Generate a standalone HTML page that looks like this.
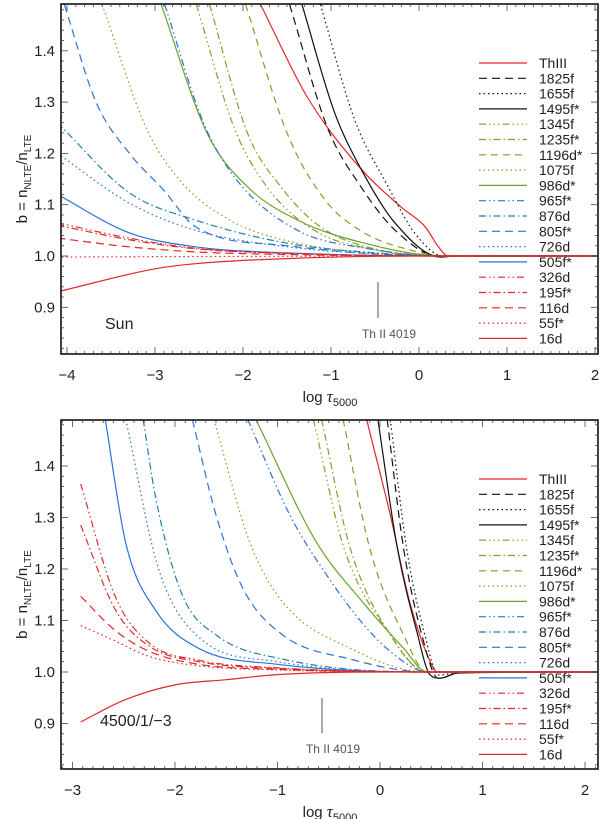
<!DOCTYPE html>
<html><head><meta charset="utf-8"><style>
html,body{margin:0;padding:0;background:#fff}
svg{display:block;font-family:"Liberation Sans","DejaVu Sans",sans-serif}
</style></head><body>
<svg id="fig" width="600" height="819" viewBox="0 0 600 819"></svg>
<script>
// ---- data ----
const labels = ["ThIII","1825f","1655f","1495f*","1345f","1235f*","1196d*","1075f","986d*","965f*","876d","805f*","726d","505f*","326d","195f*","116d","55f*","16d"];
const colors = ["#e02828","#111","#111","#111","#8a9a2a","#8a9a2a","#8a9a2a","#8a9a2a","#6aa22a","#2a72d8","#1f80a8","#2a72d8","#2a72d8","#2a72d8","#e02828","#e02828","#e02828","#e02828","#e02828"];
const dashes = ["","8,5","1.5,3","","7,3,1.5,3,1.5,3,1.5,3","7,3,1.5,3","7,5","1.5,3","","7,3,1.5,3,1.5,3","7,3,1.5,3","8,5","1.5,3","","7,3,1.5,3,1.5,3","7,3,1.5,3","8,5","1.5,3",""];
// top panel (Sun): series as [logtau, b] pairs
const sunSeries = [
 [[-1.8,1.49],[-1.27,1.31],[-0.66,1.17],[-0.2,1.095],[0.07,1.057],[0.22,1.018],[0.33,1.0],[2.1,1.0]],
 [[-1.47,1.49],[-1.04,1.25],[-0.66,1.135],[-0.27,1.05],[0.25,0.998],[0.4,1.0],[2.1,1.0]],
 [[-1.12,1.49],[-0.73,1.265],[-0.35,1.135],[-0.05,1.045],[0.28,1.0],[2.1,1.0]],
 [[-1.33,1.49],[-0.96,1.28],[-0.66,1.17],[-0.27,1.064],[0.25,0.998],[0.4,1.0],[2.1,1.0]],
 [[-2.53,1.49],[-2.1,1.25],[-1.73,1.135],[-1.19,1.05],[-0.5,1.012],[0.3,1.0],[2.1,1.0]],
 [[-2.38,1.49],[-1.95,1.24],[-1.57,1.135],[-1.12,1.057],[-0.46,1.012],[0.3,1.0],[2.1,1.0]],
 [[-1.97,1.49],[-1.5,1.24],[-1.07,1.11],[-0.62,1.045],[-0.06,1.01],[0.3,1.0],[2.1,1.0]],
 [[-3.6,1.49],[-3.1,1.25],[-2.72,1.148],[-2.15,1.07],[-1.38,1.025],[-0.4,1.005],[0.3,1.0],[2.1,1.0]],
 [[-2.93,1.49],[-2.41,1.24],[-1.95,1.135],[-1.38,1.07],[-0.62,1.025],[0.3,1.0],[2.1,1.0]],
 [[-2.89,1.49],[-2.45,1.26],[-2.07,1.148],[-1.38,1.05],[-0.6,1.015],[0.3,1.0],[2.1,1.0]],
 [[-4.11,1.26],[-3.29,1.123],[-2.54,1.07],[-1.5,1.025],[-0.5,1.006],[0.3,1.0],[2.1,1.0]],
 [[-4.03,1.49],[-3.67,1.30],[-3.29,1.20],[-2.9,1.128],[-2.54,1.057],[-1.5,1.02],[0.3,1.0],[2.1,1.0]],
 [[-4.11,1.20],[-3.29,1.103],[-2.54,1.05],[-1.5,1.018],[-0.5,1.004],[0.3,1.0],[2.1,1.0]],
 [[-4.11,1.12],[-3.29,1.045],[-2.54,1.018],[-1.5,1.006],[0.3,1.0],[2.1,1.0]],
 [[-4.11,1.065],[-3.3,1.035],[-2.54,1.015],[-1.5,1.005],[0.3,1.0],[2.1,1.0]],
 [[-4.11,1.06],[-3.3,1.032],[-2.54,1.014],[-1.5,1.005],[0.3,1.0],[2.1,1.0]],
 [[-4.11,1.035],[-3.3,1.018],[-2.54,1.008],[-1.5,1.003],[0.3,1.0],[2.1,1.0]],
 [[-4.11,0.998],[-2.5,0.999],[0.3,1.0],[2.1,1.0]],
 [[-4.11,0.93],[-3.0,0.975],[-2.54,0.985],[-1.5,0.995],[0.0,1.0],[2.1,1.0]]
];
// bottom panel (4500/1/-3)
const giantSeries = [
 [[-0.13,1.49],[0.1,1.305],[0.29,1.136],[0.49,1.02],[0.56,1.0],[2.2,1.0]],
 [[0.07,1.49],[0.23,1.24],[0.4,1.078],[0.57,0.988],[0.8,1.0],[2.2,1.0]],
 [[0.1,1.49],[0.26,1.24],[0.44,1.07],[0.57,0.994],[0.8,1.0],[2.2,1.0]],
 [[-0.02,1.49],[0.17,1.24],[0.36,1.078],[0.49,0.994],[0.59,0.988],[0.76,0.998],[2.2,1.0]],
 [[-0.65,1.49],[-0.35,1.24],[0.08,1.078],[0.46,1.0],[2.2,1.0]],
 [[-0.57,1.49],[-0.29,1.24],[0.1,1.072],[0.46,1.0],[2.2,1.0]],
 [[-0.36,1.49],[-0.1,1.24],[0.23,1.072],[0.46,1.0],[2.2,1.0]],
 [[-1.62,1.49],[-1.27,1.252],[-0.95,1.136],[-0.29,1.046],[0.46,1.0],[2.2,1.0]],
 [[-1.21,1.49],[-0.62,1.252],[-0.17,1.136],[0.23,1.046],[0.46,1.0],[2.2,1.0]],
 [[-1.29,1.49],[-0.88,1.305],[-0.56,1.2],[-0.13,1.085],[0.23,1.02],[0.46,1.0],[2.2,1.0]],
 [[-2.31,1.49],[-2.19,1.34],[-1.93,1.15],[-1.6,1.072],[-0.95,1.025],[0.46,1.0],[2.2,1.0]],
 [[-1.83,1.49],[-1.6,1.305],[-1.34,1.163],[-0.95,1.072],[-0.29,1.025],[0.46,1.0],[2.2,1.0]],
 [[-2.48,1.49],[-2.16,1.2],[-1.77,1.068],[-1.0,1.02],[0.46,1.0],[2.2,1.0]],
 [[-2.68,1.49],[-2.48,1.25],[-2.19,1.12],[-1.77,1.046],[-1.0,1.015],[0.46,1.0],[2.2,1.0]],
 [[-2.92,1.365],[-2.58,1.145],[-2.25,1.056],[-1.77,1.023],[-1.0,1.008],[0.46,1.0],[2.2,1.0]],
 [[-2.92,1.285],[-2.58,1.12],[-2.25,1.05],[-1.77,1.02],[-1.0,1.007],[0.46,1.0],[2.2,1.0]],
 [[-2.92,1.147],[-2.58,1.08],[-2.25,1.04],[-1.77,1.015],[-1.0,1.005],[0.46,1.0],[2.2,1.0]],
 [[-2.92,1.09],[-2.58,1.06],[-2.25,1.03],[-1.77,1.012],[-1.0,1.004],[0.46,1.0],[2.2,1.0]],
 [[-2.92,0.903],[-2.5,0.945],[-2.0,0.975],[-1.5,0.985],[-1.0,0.995],[0.0,1.0],[2.2,1.0]]
];
const xTicksTop = [-4,-3,-2,-1,0,1,2];
const xTicksBot = [-3,-2,-1,0,1,2];
const yTicks = [0.9,1.0,1.1,1.2,1.3,1.4];

const NS="http://www.w3.org/2000/svg";
const svg=document.getElementById('fig');
function mk(tag,attrs,parent){const e=document.createElementNS(NS,tag);for(const k in attrs)e.setAttribute(k,attrs[k]);(parent||svg).appendChild(e);return e;}

// monotone cubic (Fritsch-Carlson) path through pixel points sorted by x
function monoPath(p){
  const n=p.length;
  const dx=[],m=[],t=new Array(n);
  for(let k=0;k<n-1;k++){dx[k]=p[k+1][0]-p[k][0];m[k]=(p[k+1][1]-p[k][1])/dx[k];}
  t[0]=m[0];t[n-1]=m[n-2];
  for(let k=1;k<n-1;k++){t[k]=(m[k-1]*m[k]<=0)?0:(m[k-1]+m[k])/2;}
  for(let k=0;k<n-1;k++){
    if(m[k]===0){t[k]=0;t[k+1]=0;continue;}
    const a=t[k]/m[k],b=t[k+1]/m[k],s=a*a+b*b;
    if(s>9){const tau=3/Math.sqrt(s);t[k]=tau*a*m[k];t[k+1]=tau*b*m[k];}
  }
  let d='M'+p[0][0].toFixed(1)+','+p[0][1].toFixed(1);
  for(let k=0;k<n-1;k++){
    const h=dx[k]/3;
    d+=` C${(p[k][0]+h).toFixed(1)},${(p[k][1]+t[k]*h).toFixed(1)} ${(p[k+1][0]-h).toFixed(1)},${(p[k+1][1]-t[k+1]*h).toFixed(1)} ${p[k+1][0].toFixed(1)},${p[k+1][1].toFixed(1)}`;
  }
  return d;
}

function panel(id,series,xTicks,cfg){
  const g=mk('g',{});
  
  
  const L=61,R=598,T=cfg.top,B=cfg.bottom;
  const X=t=>cfg.x0+cfg.ux*t;
  const Y=b=>cfg.y1-(b-1)*cfg.uy;
  const cp=mk('clipPath',{id:id+'-clip'},g);
  mk('rect',{x:L,y:T,width:R-L,height:B-T},cp);
  const lines=mk('g',{'clip-path':'url(#'+id+'-clip)'},g);
  series.forEach((s,i)=>{
    const p=s.map(d=>[X(d[0]),Y(d[1])]);
    const path=mk('path',{d:monoPath(p),fill:'none',stroke:colors[i],'stroke-width':1.2,'stroke-dasharray':dashes[i]},lines);
    
    
  });
  const fr=mk('rect',{x:L,y:T,width:R-L,height:B-T,fill:'none',stroke:'#000','stroke-width':1.5},g);
  
  
  const tk=mk('g',{stroke:'#444','stroke-width':0.8},g);
  const xmin=(L-cfg.x0)/cfg.ux,xmax=(R-cfg.x0)/cfg.ux;
  for(let v=Math.ceil(xmin*10);v<=xmax*10;v++){
    const x=X(v/10),len=(v%10===0)?7:3;
    mk('line',{x1:x,y1:B,x2:x,y2:B-len},tk);mk('line',{x1:x,y1:T,x2:x,y2:T+len},tk);
  }
  for(let v=41;v<=74;v++){
    const b=v/50,y=Y(b);if(y<T||y>B)continue;
    const len=(v%5===0)?7:3;
    mk('line',{x1:L,y1:y,x2:L+len,y2:y},tk);mk('line',{x1:R,y1:y,x2:R-len,y2:y},tk);
  }
  xTicks.forEach(v=>{
    const t=mk('text',{x:X(v),y:B+26,'text-anchor':'middle','font-size':15,fill:'#222'},g);
    t.textContent=(v<0?'\u2212'+(-v):''+v);
    
    
  });
  yTicks.forEach(v=>{
    const t=mk('text',{x:L-6,y:Y(v)+5,'text-anchor':'end','font-size':15,fill:'#222'},g);
    t.textContent=v.toFixed(1);
    
    
  });
  const xt=mk('text',{x:330,y:B+48,'text-anchor':'middle','font-size':15,fill:'#222'},g);
  xt.innerHTML='log <tspan font-family="Liberation Serif" font-style="italic" font-size="17">τ</tspan><tspan font-size="11" dy="4">5000</tspan>';
  
  
  const yc=(T+B)/2;
  const yt=mk('text',{x:0,y:0,'text-anchor':'middle','font-size':15,fill:'#222',transform:`translate(27,${yc}) rotate(-90)`},g);
  yt.innerHTML='b = n<tspan font-size="10" dy="4">NLTE</tspan><tspan dy="-4">/n</tspan><tspan font-size="10" dy="4">LTE</tspan>';
  
  
  labels.forEach((lab,i)=>{
    const y=cfg.legTop+i*15.3;
    const lg=mk('g',{},g);
    
    
    mk('line',{x1:479,y1:y,x2:527,y2:y,stroke:colors[i],'stroke-width':1.2,'stroke-dasharray':dashes[i]},lg);
    const t=mk('text',{x:539,y:y+5,'font-size':14,fill:'#222'},lg);
    t.textContent=lab;
  });
  const ln=mk('line',{x1:cfg.thX,y1:cfg.thY1,x2:cfg.thX,y2:cfg.thY2,stroke:'#555','stroke-width':1},g);
  
  
  const tt=mk('text',{x:cfg.thX+11,y:cfg.thY2+20,'text-anchor':'middle','font-size':12,fill:'#555'},g);
  tt.textContent='Th II 4019';
  
  
  const nm=mk('text',{x:cfg.nameX,y:cfg.nameY,'font-size':16,fill:'#222'},g);
  nm.textContent=cfg.name;
  
  
}
panel('top',sunSeries,xTicksTop,{top:4,bottom:354,x0:419,ux:88,y1:256,uy:513,legTop:63,thX:378,thY1:282,thY2:318,name:'Sun',nameX:105,nameY:329});
panel('bottom',giantSeries,xTicksBot,{top:420,bottom:769,x0:380,ux:102.5,y1:672,uy:515,legTop:479,thX:322,thY1:698,thY2:733,name:'4500/1/\u22123',nameX:100,nameY:726});
</script>
</body></html>
